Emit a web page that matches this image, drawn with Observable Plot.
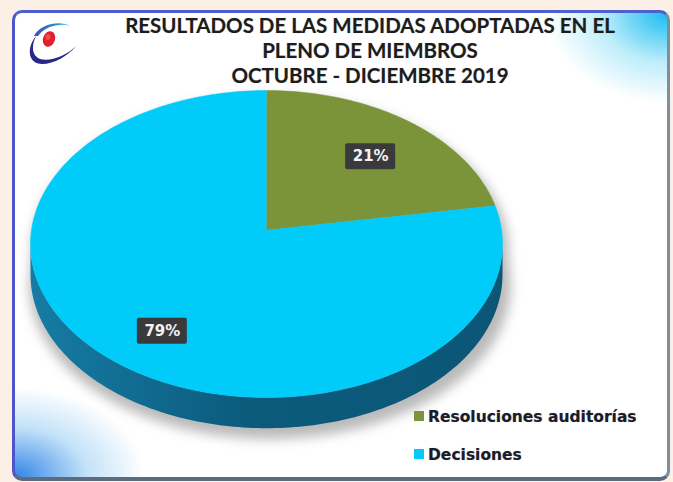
<!DOCTYPE html>
<html>
<head>
<meta charset="utf-8">
<script src="https://cdn.jsdelivr.net/npm/d3@7"></script>
<script src="https://cdn.jsdelivr.net/npm/@observablehq/plot@0.6"></script>
<style>
  html, body { margin: 0; padding: 0; }
  body { width: 673px; height: 482px; position: relative; overflow: hidden; background: #fcefe6; font-family: Lato, "Open Sans", sans-serif; }
  #frame { position: absolute; left: 12px; top: 10px; width: 652px; height: 464px;
    border-style: solid; border-width: 3px 3px 4px 3px; border-color: #4f5fd0 #7e8ea0 #5b6b80 #4b56c8;
    border-radius: 10px; background:
      radial-gradient(ellipse 120px 90px at 100% 0%, rgba(10,185,240,0.95), rgba(110,215,245,0.45) 55%, rgba(255,255,255,0) 100%),
      radial-gradient(ellipse 130px 90px at 0% 100%, rgba(40,125,230,0.95), rgba(120,190,240,0.45) 55%, rgba(255,255,255,0) 100%),
      #ffffff; }
  #chart { position: absolute; left: 0; top: 0; }
  .title { position: absolute; left: 120px; width: 500px; text-align: center; font-weight: 700; font-size: 20.5px; line-height: 1; color: #1d1d1d; text-shadow: 0 0 1px rgba(0,0,0,0.3); white-space: nowrap; }
  .leg { position: absolute; left: 428px; font-family: "DejaVu Sans", Verdana, sans-serif; font-weight: 700; font-size: 15.5px; line-height: 1; color: #1c1c2a; white-space: nowrap; text-shadow: 0 0 1px rgba(0,0,0,0.35); }
  .sw { position: absolute; left: 414px; width: 10px; height: 10px; }
  #logo { position: absolute; left: 22px; top: 16px; }
</style>
</head>
<body>
<div id="frame"></div>
<svg width="0" height="0" style="position:absolute">
  <defs>
    <linearGradient id="wallCyan" x1="0" y1="0" x2="1" y2="0">
      <stop offset="0" stop-color="#167ca4"/>
      <stop offset="0.45" stop-color="#0b5b7d"/>
      <stop offset="1" stop-color="#0b5676"/>
    </linearGradient>
    <linearGradient id="wallGreen" x1="0" y1="0" x2="1" y2="0">
      <stop offset="0" stop-color="#5d7429"/>
      <stop offset="1" stop-color="#44561c"/>
    </linearGradient>
  </defs>
</svg>
<div id="chart"></div>
<svg id="logo" width="60" height="56" viewBox="0 0 60 56">
  <defs>
    <linearGradient id="sw1" x1="0" y1="0" x2="1" y2="0">
      <stop offset="0" stop-color="#3a4fb8"/>
      <stop offset="1" stop-color="#29b5d8"/>
    </linearGradient>
  </defs>
  <path d="M12 20 C 18 8, 38 4, 48 10 C 40 7, 24 9, 16 20 Z" fill="url(#sw1)"/>
  <path d="M14 20 C 4 32, 6 48, 20 48 C 32 48, 46 40, 54 30 C 44 40, 28 46, 18 43 C 10 40, 9 30, 14 20 Z" fill="#28288a"/>
  <ellipse cx="27" cy="23" rx="6" ry="8" transform="rotate(20 27 23)" fill="#e0202a"/>
  <ellipse cx="26" cy="21" rx="2.5" ry="3" fill="#f56a6a" opacity="0.6"/>
</svg>
<div class="title" style="top:15px">RESULTADOS DE LAS MEDIDAS ADOPTADAS EN EL</div>
<div class="title" style="top:40px">PLENO DE MIEMBROS</div>
<div class="title" style="top:65px">OCTUBRE - DICIEMBRE 2019</div>
<div id="legend"></div>
<script>
// ---- data ----
const categories = ["Resoluciones auditorías", "Decisiones"];
const values = [21, 79];
const colors = ["#7b9439", "#00cbf9"];
const wallFills = ["url(#wallGreen)", "url(#wallCyan)"];

// ---- geometry (unit-ellipse coordinates, y up) ----
const apexY = 0.09;    // perspective shift of the pie centre
const depth = 0.2;     // wall thickness
const total = d3.sum(values);
const arcs = d3.pie().sort(null).value(d => d)(values);
const fmt = d3.format(".0%");

const slicePts = arcs.flatMap((a, i) => {
  const pts = [{x: 0, y: apexY, name: categories[i], c: colors[i]}];
  const n = Math.max(4, Math.ceil((a.endAngle - a.startAngle) / 0.02));
  for (let k = 0; k <= n; k++) {
    const t = a.startAngle + (a.endAngle - a.startAngle) * k / n;
    pts.push({x: Math.sin(t), y: Math.cos(t), name: categories[i], c: colors[i]});
  }
  return pts;
});

// front wall: one polygon per slice, clipped to the visible half (π/2 .. 3π/2)
const wallPts = [];
arcs.forEach((a, i) => {
  const t0 = Math.max(a.startAngle, Math.PI / 2), t1 = Math.min(a.endAngle, 3 * Math.PI / 2);
  if (t1 <= t0) return;
  const n = Math.max(4, Math.ceil((t1 - t0) / 0.02));
  const top = [], bot = [];
  for (let k = 0; k <= n; k++) {
    const t = t0 + (t1 - t0) * k / n;
    top.push({id: categories[i], c: wallFills[i], x: Math.sin(t), y: Math.cos(t)});
    bot.push({id: categories[i], c: wallFills[i], x: Math.sin(t), y: Math.cos(t) - depth});
  }
  wallPts.push(...top, ...bot.reverse());
});

// soft shadow outline
const shadowPts = [];
for (let k = 0; k <= 120; k++) {
  const t = -Math.PI / 2 + Math.PI * k / 120;
  shadowPts.push({x: 1.01 * Math.sin(t) + 0.015, y: Math.cos(t) - 0.04});
}
for (let k = 0; k <= 120; k++) {
  const t = Math.PI / 2 + Math.PI * k / 120;
  shadowPts.push({x: 1.02 * Math.sin(t) + 0.015, y: Math.cos(t) - depth - 0.07});
}

const labelR = 0.72;
const labels = arcs.map((a, i) => {
  const m = (a.startAngle + a.endAngle) / 2;
  return {lx: labelR * Math.sin(m), ly: labelR * Math.cos(m), text: fmt(values[i] / total)};
});

const chart = Plot.plot({
  width: 673,
  height: 482,
  margin: 0,
  x: {domain: [-1, 1], range: [30, 502], axis: null},
  y: {domain: [-1, 1], range: [397, 90], axis: null},
  style: {background: "transparent", overflow: "visible"},
  marks: [
    Plot.line(shadowPts, {x: "x", y: "y", fill: "#8c8c8c", fillOpacity: 0.6, stroke: "none"}),
    Plot.line(wallPts, {x: "x", y: "y", z: "id", fill: "c", stroke: "none"}),
    Plot.line(slicePts, {x: "x", y: "y", z: "name", fill: "c", stroke: "c", strokeWidth: 0.5}),
    Plot.rect(labels, {x1: "lx", x2: "lx", y1: "ly", y2: "ly", insetLeft: -25, insetRight: -25, insetTop: -13, insetBottom: -13, fill: "#3a3a3c", rx: 2}),
    Plot.text(labels, {x: "lx", y: "ly", text: "text", fill: "#f2f2f2", fontSize: 15, fontWeight: 700, fontFamily: "DejaVu Sans, sans-serif"})
  ]
});
document.getElementById("chart").appendChild(chart);
const lineGroups = chart.querySelectorAll('g[aria-label="line"]');
if (lineGroups.length) lineGroups[0].style.filter = "blur(6px)";

// legend
const legend = document.getElementById("legend");
const legTops = [410, 448];
categories.forEach((name, i) => {
  const s = document.createElement("div");
  s.className = "sw";
  s.style.top = (legTops[i] + 1) + "px";
  s.style.background = colors[i];
  legend.appendChild(s);
  const d = document.createElement("div");
  d.className = "leg";
  d.style.top = legTops[i] + "px";
  d.textContent = name;
  legend.appendChild(d);
});
</script>
</body>
</html>
